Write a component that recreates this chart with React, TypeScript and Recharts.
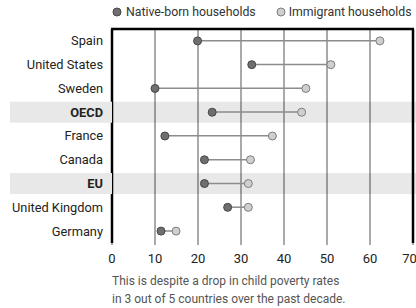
import React from 'react';
import {
  ComposedChart,
  Bar,
  Line,
  XAxis,
  YAxis,
  CartesianGrid,
  ReferenceArea,
  ReferenceLine,
} from 'recharts';

// Child poverty rate (%), by household type
const countries = ['Spain', 'United States', 'Sweden', 'OECD', 'France', 'Canada', 'EU', 'United Kingdom', 'Germany'];
const nativeBorn = [19.9, 32.5, 10.0, 23.3, 12.3, 21.5, 21.5, 26.9, 11.4];
const immigrant = [62.3, 50.9, 45.1, 44.1, 37.3, 32.2, 31.7, 31.7, 14.9];
const highlighted = ['OECD', 'EU'];
const xTicks = [0, 10, 20, 30, 40, 50, 60, 70];

const data = countries.map((country, i) => ({
  country,
  native: nativeBorn[i],
  immigrant: immigrant[i],
}));

const FONT = 'Roboto, "Noto Sans", sans-serif';
const NATIVE_FILL = '#6f6f6f';
const NATIVE_STROKE = '#474747';
const IMM_FILL = '#cfcfcf';
const IMM_STROKE = '#7d7d7d';
const BAND = '#e8e8e8';

const CountryTick = (props: any) => {
  const { x, y, payload } = props;
  const hl = highlighted.includes(payload.value);
  return (
    <g>
      {hl && <rect x={10} y={y - 10.5} width={102} height={21} fill={BAND} />}
      <text
        x={x}
        y={y}
        dy="0.35em"
        textAnchor="end"
        fontFamily={FONT}
        fontSize={12.8}
        fontWeight={hl ? 700 : 400}
        fill="#222"
      >
        {payload.value}
      </text>
    </g>
  );
};

// shrink the band a bit so it doesn't fill the whole category slot
const BandShape = (props: any) => {
  const { x, y, width, height } = props;
  return <rect x={x} y={y + 1.4} width={width + 4} height={height - 2.8} fill="#000" fillOpacity={0.09} />;
};

// only the top edge of the plot frame
const TopBorder = (props: any) => {
  const { x, y, width } = props;
  return <line x1={x - 1} x2={x + width + 1} y1={y} y2={y} stroke="#000" strokeWidth={2.5} />;
};

export default function App() {
  return (
    <div
      style={{
        position: 'fixed',
        left: 0,
        top: 0,
        width: 416,
        height: 308,
        background: '#fff',
        fontFamily: FONT,
        overflow: 'hidden',
      }}
    >
      {/* Legend */}
      <div
        style={{
          position: 'absolute',
          top: 5,
          left: 112,
          display: 'flex',
          alignItems: 'center',
          fontSize: 12.3,
          color: '#333',
          whiteSpace: 'nowrap',
        }}
      >
        <svg width={10} height={10} style={{ marginRight: 4 }}>
          <circle cx={5} cy={5} r={4} fill={NATIVE_FILL} stroke={NATIVE_STROKE} strokeWidth={1} />
        </svg>
        <span>Native-born households</span>
        <svg width={10} height={10} style={{ marginLeft: 20, marginRight: 3 }}>
          <circle cx={5} cy={5} r={4} fill={IMM_FILL} stroke={IMM_STROKE} strokeWidth={1} />
        </svg>
        <span>Immigrant households</span>
      </div>

      <div style={{ position: 'absolute', left: 0, top: 0 }}>
        <ComposedChart
          width={416}
          height={308}
          data={data}
          layout="vertical"
          margin={{ top: 29, right: 3, bottom: 45, left: 0 }}
        >
          <CartesianGrid horizontal={false} vertical stroke="#555" strokeWidth={1} />
          {highlighted.map((c) => (
            <ReferenceArea key={c} y1={c} y2={c} x1={0} x2={70} shape={<BandShape />} ifOverflow="visible" />
          ))}
          <ReferenceArea x1={0} x2={70} shape={<TopBorder />} ifOverflow="visible" />
          <XAxis
            type="number"
            domain={[0, 70]}
            ticks={xTicks}
            axisLine={false}
            tickLine={{ stroke: '#555' }}
            tickSize={2}
            tickMargin={9}
            height={20}
            tick={{ fontFamily: FONT, fontSize: 13, fill: '#222' }}
          />
          <YAxis
            type="category"
            dataKey="country"
            width={112}
            tickSize={0}
            tickMargin={9}
            axisLine={{ stroke: '#000', strokeWidth: 2.5 }}
            tick={<CountryTick />}
            interval={0}
          />
          <ReferenceLine x={70} stroke="#000" strokeWidth={2.5} />
          <Bar
            dataKey={(d: any) => [d.native, d.immigrant]}
            barSize={1.5}
            fill="#8c8c8c"
            isAnimationActive={false}
          />
          <Line
            dataKey="native"
            stroke="none"
            dot={{ r: 4, fill: NATIVE_FILL, stroke: NATIVE_STROKE, strokeWidth: 1 }}
            activeDot={false}
            isAnimationActive={false}
          />
          <Line
            dataKey="immigrant"
            stroke="none"
            dot={{ r: 4, fill: IMM_FILL, stroke: IMM_STROKE, strokeWidth: 1 }}
            activeDot={false}
            isAnimationActive={false}
          />
        </ComposedChart>
      </div>

      {/* Footnote */}
      <div
        style={{
          position: 'absolute',
          left: 112,
          top: 273,
          fontSize: 12,
          lineHeight: '17.5px',
          color: '#555',
          whiteSpace: 'nowrap',
        }}
      >
        This is despite a drop in child poverty rates
        <br />
        in 3 out of 5 countries over the past decade.
      </div>
    </div>
  );
}
